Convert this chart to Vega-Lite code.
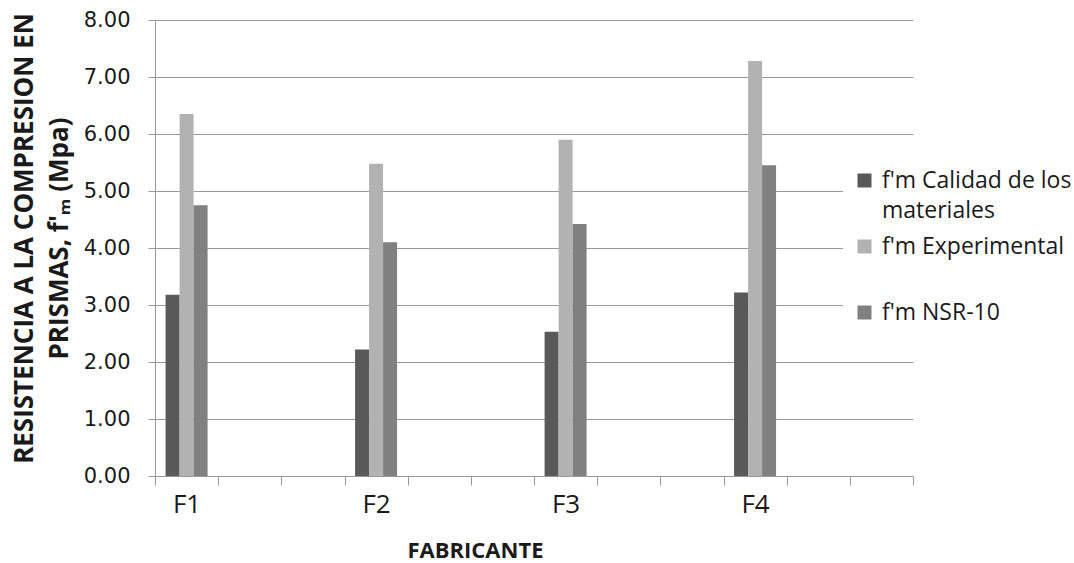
{
  "$schema": "https://vega.github.io/schema/vega-lite/v6.json",
  "width": 758,
  "height": 456,
  "autosize": {"type": "none"},
  "padding": {"left": 155, "top": 20, "right": 161, "bottom": 87},
  "background": "white",
  "config": {
    "view": {"stroke": null},
    "axis": {"domainColor": "#999999", "tickColor": "#999999", "labelColor": "#1a1a1a", "titleColor": "#1a1a1a"},
    "style": {"guide-label": {"lineHeight": 30}}
  },
  "data": {
    "values": [
      {"fabricante": "F1", "serie": "f'm Calidad de los materiales", "fm": 3.18},
      {"fabricante": "F1", "serie": "f'm Experimental", "fm": 6.35},
      {"fabricante": "F1", "serie": "f'm NSR-10", "fm": 4.75},
      {"fabricante": "F2", "serie": "f'm Calidad de los materiales", "fm": 2.22},
      {"fabricante": "F2", "serie": "f'm Experimental", "fm": 5.48},
      {"fabricante": "F2", "serie": "f'm NSR-10", "fm": 4.10},
      {"fabricante": "F3", "serie": "f'm Calidad de los materiales", "fm": 2.53},
      {"fabricante": "F3", "serie": "f'm Experimental", "fm": 5.90},
      {"fabricante": "F3", "serie": "f'm NSR-10", "fm": 4.42},
      {"fabricante": "F4", "serie": "f'm Calidad de los materiales", "fm": 3.22},
      {"fabricante": "F4", "serie": "f'm Experimental", "fm": 7.28},
      {"fabricante": "F4", "serie": "f'm NSR-10", "fm": 5.45}
    ]
  },
  "mark": {"type": "bar"},
  "encoding": {
    "x": {
      "field": "fabricante",
      "type": "nominal",
      "scale": {
        "domain": ["F1", " ", "  ", "F2", "   ", "    ", "F3", "     ", "      ", "F4", "       ", "        "],
        "paddingInner": 0,
        "paddingOuter": 0
      },
      "axis": {
        "title": "FABRICANTE",
        "titleFont": "Open Sans",
        "titleFontWeight": "bold",
        "titleFontSize": 22,
        "titleX": 320,
        "titleY": 81,
        "titleBaseline": "alphabetic",
        "labelAngle": 0,
        "labelFont": "Open Sans",
        "labelFontSize": 26,
        "labelPadding": 6,
        "tickBand": "extent",
        "tickSize": 9,
        "grid": false
      }
    },
    "xOffset": {
      "field": "serie",
      "type": "nominal",
      "scale": {
        "domain": ["f'm Calidad de los materiales", "f'm Experimental", "f'm NSR-10"],
        "paddingInner": 0,
        "paddingOuter": 0.756
      }
    },
    "y": {
      "field": "fm",
      "type": "quantitative",
      "scale": {"domain": [0, 8], "nice": false},
      "axis": {
        "title": ["RESISTENCIA A LA COMPRESION EN", "PRISMAS, f'ₘ (Mpa)"],
        "titleFont": "Open Sans",
        "titleFontWeight": "bold",
        "titleFontSize": 26,
        "titleLineHeight": 35,
        "titleAngle": -90,
        "titleBaseline": "top",
        "titleAlign": "center",
        "titleX": -144,
        "titleY": 218,
        "values": [0, 1, 2, 3, 4, 5, 6, 7, 8],
        "format": ".2f",
        "labelFont": "DejaVu Sans",
        "labelFontSize": 21,
        "labelPadding": 18,
        "tickSize": 7,
        "grid": true,
        "gridColor": "#9a9a9a"
      }
    },
    "color": {
      "field": "serie",
      "type": "nominal",
      "scale": {
        "domain": ["f'm Calidad de los materiales", "f'm Experimental", "f'm NSR-10"],
        "range": ["#595959", "#b2b2b2", "#808080"]
      },
      "legend": {
        "title": null,
        "orient": "none",
        "legendX": 688,
        "legendY": 139,
        "padding": 10,
        "fillColor": "white",
        "gridAlign": "all",
        "rowPadding": 12,
        "symbolType": "square",
        "symbolSize": 196,
        "symbolStrokeWidth": 0,
        "labelFont": "Open Sans",
        "labelFontSize": 23,
        "labelOffset": 6,
        "labelColor": "#1a1a1a",
        "labelLimit": 0,
        "labelExpr": "datum.label === \"f'm Calidad de los materiales\" ? [\"f'm Calidad de los\", \"materiales\"] : datum.label"
      }
    }
  }
}
